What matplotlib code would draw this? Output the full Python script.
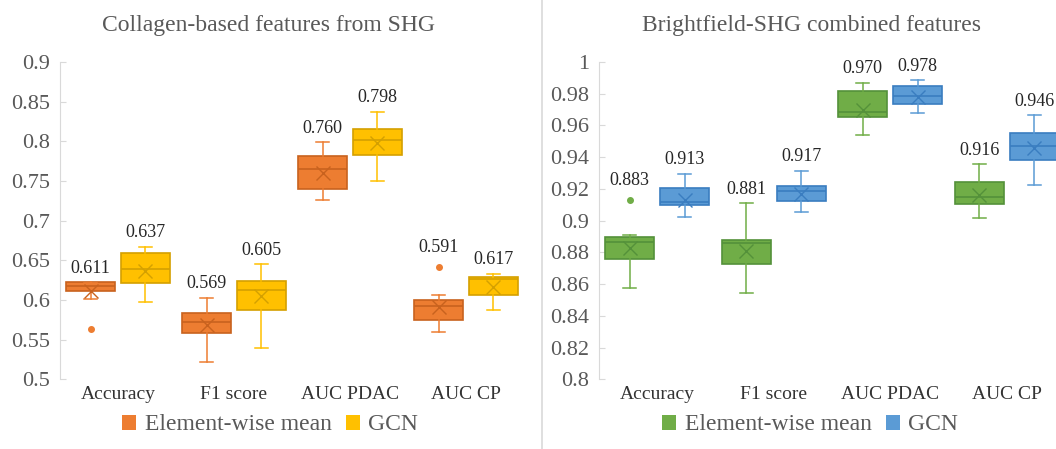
import matplotlib
matplotlib.use("Agg")
import matplotlib.pyplot as plt
from matplotlib.patches import Patch
from matplotlib.lines import Line2D

plt.rcParams['font.family'] = ['Liberation Serif', 'DejaVu Serif']

categories = ['Accuracy', 'F1 score', 'AUC PDAC', 'AUC CP']
series = ['Element-wise mean', 'GCN']

# left panel: collagen-based features from SHG
shg_ewm_q1 = [0.611, 0.559, 0.740, 0.575]
shg_ewm_med = [0.618, 0.573, 0.765, 0.592]
shg_ewm_q3 = [0.623, 0.584, 0.781, 0.600]
shg_ewm_lo = [0.602, 0.522, 0.726, 0.560]
shg_ewm_hi = [0.622, 0.603, 0.799, 0.606]
shg_ewm_mean = [0.611, 0.569, 0.760, 0.591]
shg_ewm_out = [[0.563], [], [], [0.642]]

shg_gcn_q1 = [0.621, 0.588, 0.783, 0.607]
shg_gcn_med = [0.639, 0.613, 0.802, 0.626]
shg_gcn_q3 = [0.659, 0.624, 0.816, 0.629]
shg_gcn_lo = [0.597, 0.540, 0.750, 0.587]
shg_gcn_hi = [0.667, 0.645, 0.837, 0.633]
shg_gcn_mean = [0.637, 0.605, 0.798, 0.617]
shg_gcn_out = [[], [], [], []]

# right panel: brightfield-SHG combined features
bf_ewm_q1 = [0.876, 0.8725, 0.9653, 0.9105]
bf_ewm_med = [0.8868, 0.886, 0.9685, 0.915]
bf_ewm_q3 = [0.8895, 0.888, 0.982, 0.9244]
bf_ewm_lo = [0.8578, 0.8544, 0.954, 0.9019]
bf_ewm_hi = [0.8908, 0.911, 0.9868, 0.9355]
bf_ewm_mean = [0.883, 0.881, 0.970, 0.916]
bf_ewm_out = [[0.9128], [], [], []]

bf_gcn_q1 = [0.910, 0.9126, 0.9733, 0.938]
bf_gcn_med = [0.912, 0.9187, 0.9788, 0.947]
bf_gcn_q3 = [0.9206, 0.9216, 0.9849, 0.9555]
bf_gcn_lo = [0.9023, 0.9053, 0.968, 0.9227]
bf_gcn_hi = [0.9294, 0.9313, 0.9884, 0.9664]
bf_gcn_mean = [0.913, 0.917, 0.978, 0.946]
bf_gcn_out = [[], [], [], []]

left_ticks = [0.5, 0.55, 0.6, 0.65, 0.7, 0.75, 0.8, 0.85, 0.9]
right_ticks = [0.8, 0.82, 0.84, 0.86, 0.88, 0.9, 0.92, 0.94, 0.96, 0.98, 1.0]


def make_stats(q1, med, q3, lo, hi, mean, out):
    stats = []
    for i in range(len(q1)):
        stats.append({'q1': q1[i], 'med': med[i], 'q3': q3[i],
                      'whislo': lo[i], 'whishi': hi[i],
                      'mean': mean[i], 'fliers': out[i]})
    return stats


def draw_group(ax, stats, offset, fill, edge):
    pos = [i + offset for i in range(len(stats))]
    ax.bxp(stats, positions=pos, widths=0.42, patch_artist=True,
           showmeans=True, manage_ticks=False,
           boxprops=dict(facecolor=fill, edgecolor=edge, linewidth=1.2),
           medianprops=dict(color=edge, linewidth=1.2),
           whiskerprops=dict(color=fill, linewidth=1.1),
           capprops=dict(color=fill, linewidth=1.1),
           capwidths=0.11,
           meanprops=dict(marker='x', markeredgecolor=edge, markersize=10,
                          markeredgewidth=1.0),
           flierprops=dict(marker='o', markerfacecolor=fill,
                           markeredgecolor=fill, markersize=4))
    for p, s in zip(pos, stats):
        top = max([s['whishi']] + list(s['fliers']))
        dy = 8 if s['fliers'] and max(s['fliers']) > s['whishi'] else 4
        ax.annotate('%.3f' % s['mean'], (p, top), xytext=(0, dy),
                    textcoords='offset points', ha='center', va='bottom',
                    fontsize=13, color='#262626')


def style_axis(ax, ticks, labels):
    ax.set_xlim(-0.5, 3.5)
    ax.set_ylim(ticks[0], ticks[-1])
    ax.set_yticks(ticks)
    ax.set_yticklabels(labels)
    ax.set_xticks(range(len(categories)))
    ax.set_xticklabels(categories)
    for sp in ['top', 'right', 'bottom']:
        ax.spines[sp].set_visible(False)
    ax.spines['left'].set_color('#D9D9D9')
    ax.tick_params(axis='y', direction='in', length=4, color='#D9D9D9',
                   labelsize=16, labelcolor='#595959', pad=7)
    ax.tick_params(axis='x', length=0, labelsize=14, labelcolor='#333333', pad=5)


fig = plt.figure(figsize=(10.56, 4.49), dpi=100)
ax1 = fig.add_axes([60 / 1056, 0.1548, 464 / 1056, 0.7072])
ax2 = fig.add_axes([599 / 1056, 0.1548, 466 / 1056, 0.7072])

orange, orange_e = '#ED7D31', '#C8621E'
yellow, yellow_e = '#FFC000', '#D4A000'
green, green_e = '#70AD47', '#54913A'
blue, blue_e = '#5B9BD5', '#3A7DC0'

draw_group(ax1, make_stats(shg_ewm_q1, shg_ewm_med, shg_ewm_q3, shg_ewm_lo,
                           shg_ewm_hi, shg_ewm_mean, shg_ewm_out),
           -0.235, orange, orange_e)
draw_group(ax1, make_stats(shg_gcn_q1, shg_gcn_med, shg_gcn_q3, shg_gcn_lo,
                           shg_gcn_hi, shg_gcn_mean, shg_gcn_out),
           0.235, yellow, yellow_e)
draw_group(ax2, make_stats(bf_ewm_q1, bf_ewm_med, bf_ewm_q3, bf_ewm_lo,
                           bf_ewm_hi, bf_ewm_mean, bf_ewm_out),
           -0.235, green, green_e)
draw_group(ax2, make_stats(bf_gcn_q1, bf_gcn_med, bf_gcn_q3, bf_gcn_lo,
                           bf_gcn_hi, bf_gcn_mean, bf_gcn_out),
           0.235, blue, blue_e)

style_axis(ax1, left_ticks, ['%g' % t for t in left_ticks])
style_axis(ax2, right_ticks, ['%g' % t for t in right_ticks])

fig.text(268 / 1056, 1 - 25 / 449, 'Collagen-based features from SHG',
         ha='center', va='center', fontsize=17, color='#595959')
fig.text(812 / 1056, 1 - 25 / 449, 'Brightfield-SHG combined features',
         ha='center', va='center', fontsize=17, color='#595959')

for cols, cx in [((orange, yellow), 270 / 1056), ((green, blue), 810 / 1056)]:
    handles = [Patch(facecolor=c, edgecolor='none') for c in cols]
    fig.legend(handles, series, loc='center', bbox_to_anchor=(cx, 1 - 425 / 449),
               ncol=2, frameon=False, fontsize=17, handlelength=0.6,
               handleheight=0.6, handletextpad=0.35, columnspacing=0.6,
               labelcolor='#595959', borderpad=0)

fig.add_artist(Line2D([542 / 1056, 542 / 1056], [0, 1], color='#D9D9D9',
                      linewidth=1.2))

fig.savefig('out.png', dpi=100)
